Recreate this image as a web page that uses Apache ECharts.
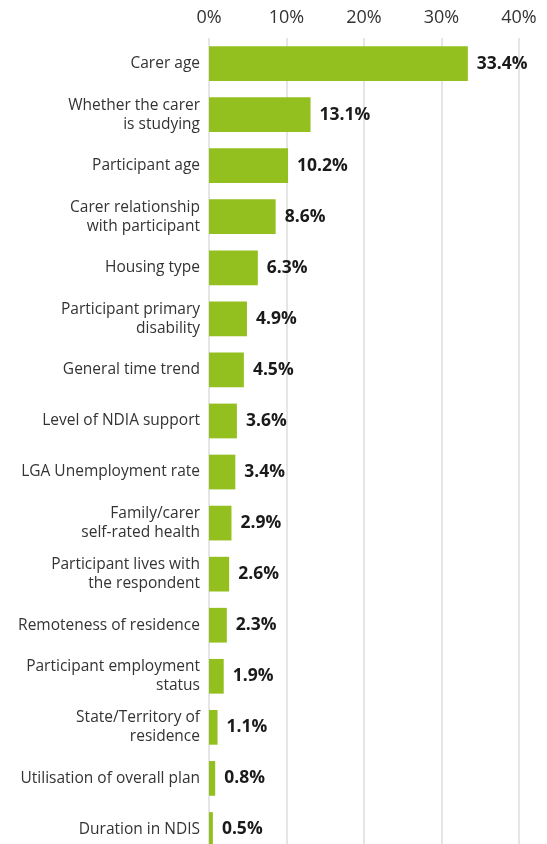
<!DOCTYPE html>
<html>
<head>
<meta charset="utf-8">
<script src="https://cdn.jsdelivr.net/npm/echarts@6/dist/echarts.min.js"></script>
<style>
  html, body { margin: 0; padding: 0; background: #fff; }
  #chart { width: 547px; height: 844px; }
</style>
</head>
<body>
<div id="chart"></div>
<script>
// Factors, top to bottom
const categories = [
  'Carer age',
  'Whether the carer\nis studying',
  'Participant age',
  'Carer relationship\nwith participant',
  'Housing type',
  'Participant primary\ndisability',
  'General time trend',
  'Level of NDIA support',
  'LGA Unemployment rate',
  'Family/carer\nself-rated health',
  'Participant lives with\nthe respondent',
  'Remoteness of residence',
  'Participant employment\nstatus',
  'State/Territory of\nresidence',
  'Utilisation of overall plan',
  'Duration in NDIS'
];

// Share of explained variation (%)
const shares = [33.4, 13.1, 10.2, 8.6, 6.3, 4.9, 4.5, 3.6, 3.4, 2.9, 2.6, 2.3, 1.9, 1.1, 0.8, 0.5];

// Value axis ticks
const axisMin = 0;
const axisMax = 40;
const axisStep = 10;

const FONT = '"Open Sans", "DejaVu Sans", sans-serif';

const chart = echarts.init(document.getElementById('chart'), null, { renderer: 'canvas' });

chart.setOption({
  animation: false,
  backgroundColor: '#ffffff',
  grid: {
    left: 209,
    width: 310,
    top: 38,
    height: 817,
    containLabel: false,
    outerBoundsMode: 'none'
  },
  xAxis: {
    type: 'value',
    position: 'top',
    min: axisMin,
    max: axisMax,
    interval: axisStep,
    axisLine: { show: false },
    axisTick: { show: false },
    axisLabel: {
      formatter: '{value}%',
      color: '#333333',
      fontFamily: FONT,
      fontSize: 18,
      margin: 11
    },
    splitLine: { show: true, lineStyle: { color: '#dcdcdc', width: 1.5 } }
  },
  yAxis: {
    type: 'category',
    data: categories,
    inverse: true,
    axisLine: { show: false },
    axisTick: { show: false },
    axisLabel: {
      color: '#333333',
      fontFamily: FONT,
      fontSize: 15.5,
      lineHeight: 19,
      margin: 9,
      align: 'right'
    }
  },
  series: [{
    type: 'bar',
    data: shares,
    barCategoryGap: '32%',
    itemStyle: { color: '#93c01f' },
    label: {
      show: true,
      position: 'right',
      distance: 9,
      formatter: (p) => p.value.toFixed(1) + '%',
      color: '#1a1a1a',
      fontFamily: FONT,
      fontSize: 17.5,
      fontWeight: 'bold'
    }
  }]
});
</script>
</body>
</html>
